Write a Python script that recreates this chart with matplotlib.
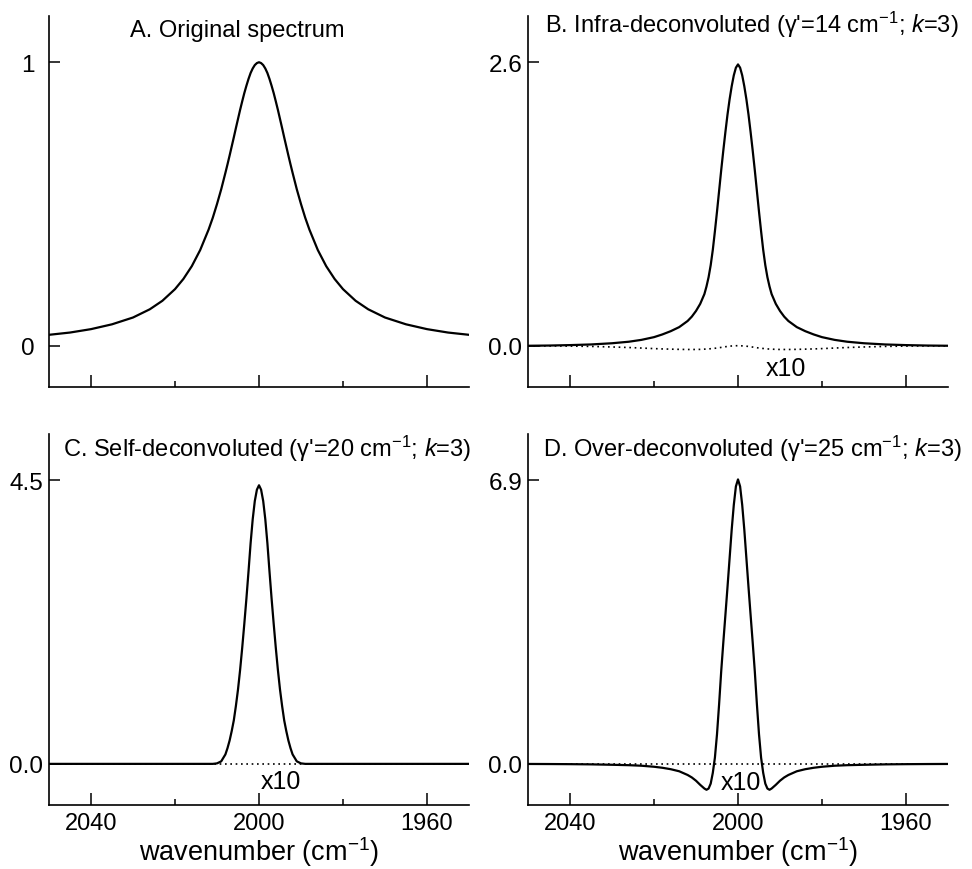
import numpy as np
import matplotlib
matplotlib.use("Agg")
import matplotlib.pyplot as plt
from matplotlib.ticker import FixedLocator

plt.rcParams['font.family'] = ['Liberation Sans', 'DejaVu Sans']
plt.rcParams['mathtext.fontset'] = 'custom'
plt.rcParams['mathtext.rm'] = 'Liberation Sans'
plt.rcParams['mathtext.it'] = 'Liberation Sans:italic'

# ---------------------------------------------------------------
#  data (wavenumber grid shared by all panels)
# ---------------------------------------------------------------
wavenumber = [2050, 2045, 2040, 2035, 2030, 2026, 2023, 2020, 2018, 2016,
              2014, 2012, 2011, 2010, 2009, 2008, 2007.5, 2007, 2006.5, 2006,
              2005.5, 2005, 2004.5, 2004, 2003.5, 2003, 2002.5, 2002, 2001.5,
              2001, 2000.5, 2000,
              1999.5, 1999, 1998.5, 1998, 1997.5, 1997, 1996.5, 1996, 1995.5,
              1995, 1994.5, 1994, 1993.5, 1993, 1992.5, 1992, 1991, 1990, 1989,
              1988, 1986, 1984, 1982, 1980, 1977, 1974, 1970, 1965, 1960, 1955,
              1950]

original = [0.039, 0.047, 0.059, 0.076, 0.100, 0.129, 0.159, 0.200, 0.236, 0.281,
            0.338, 0.410, 0.452, 0.500, 0.552, 0.610, 0.640, 0.671, 0.703, 0.735,
            0.768, 0.800, 0.832, 0.862, 0.891, 0.917, 0.941, 0.962, 0.978,
            0.990, 0.997, 1.000,
            0.997, 0.990, 0.978, 0.962, 0.941, 0.917, 0.891, 0.862, 0.832,
            0.800, 0.768, 0.735, 0.703, 0.671, 0.640, 0.610, 0.552, 0.500, 0.452,
            0.410, 0.338, 0.281, 0.236, 0.200, 0.159, 0.129, 0.100, 0.076, 0.059, 0.047,
            0.039]

infra = [0.001, 0.003, 0.007, 0.013, 0.024, 0.038, 0.055, 0.080, 0.105, 0.135,
         0.172, 0.228, 0.268, 0.320, 0.385, 0.475, 0.545, 0.630, 0.740, 0.880,
         1.050, 1.230, 1.420, 1.610, 1.790, 1.960, 2.120, 2.260, 2.380,
         2.480, 2.550, 2.580,
         2.550, 2.480, 2.380, 2.260, 2.120, 1.960, 1.790, 1.610, 1.420,
         1.230, 1.050, 0.880, 0.740, 0.630, 0.545, 0.475, 0.385, 0.320, 0.268,
         0.228, 0.172, 0.135, 0.105, 0.080, 0.055, 0.038, 0.024, 0.013, 0.007, 0.003,
         0.001]

infra_x10 = [0.000, 0.000, -0.002, -0.005, -0.010, -0.015, -0.020, -0.025, -0.028, -0.030,
             -0.032, -0.033, -0.033, -0.033, -0.032, -0.030, -0.029, -0.028, -0.026, -0.024,
             -0.022, -0.020, -0.017, -0.014, -0.011, -0.008, -0.005, -0.003, -0.001,
             0.000, 0.001, 0.002,
             0.001, 0.000, -0.001, -0.003, -0.005, -0.008, -0.011, -0.014, -0.017,
             -0.020, -0.022, -0.024, -0.026, -0.028, -0.029, -0.030, -0.032, -0.033, -0.033,
             -0.033, -0.032, -0.030, -0.028, -0.025, -0.020, -0.015, -0.010, -0.005, -0.002, 0.000,
             0.000]

self_dec = [0.0, 0.0, 0.0, 0.0, 0.0, 0.0, 0.0, 0.0, 0.0, 0.0,
            0.0, 0.0, 0.0, 0.008, 0.040, 0.150, 0.250, 0.370, 0.520, 0.690,
            0.920, 1.180, 1.490, 1.840, 2.220, 2.620, 3.050, 3.500, 3.880,
            4.170, 4.350, 4.420,
            4.350, 4.170, 3.880, 3.500, 3.050, 2.620, 2.220, 1.840, 1.490,
            1.180, 0.920, 0.690, 0.520, 0.370, 0.250, 0.150, 0.040, 0.008, 0.0,
            0.0, 0.0, 0.0, 0.0, 0.0, 0.0, 0.0, 0.0, 0.0, 0.0, 0.0,
            0.0]

over_dec = [-0.002, -0.004, -0.007, -0.012, -0.022, -0.032, -0.045, -0.070, -0.095, -0.130,
            -0.180, -0.270, -0.330, -0.410, -0.510, -0.600, -0.630, -0.600, -0.480, -0.220,
            0.150, 0.720, 1.450, 2.250, 2.950, 3.620, 4.300, 5.000, 5.700,
            6.300, 6.750, 6.920,
            6.750, 6.300, 5.700, 5.000, 4.300, 3.620, 2.950, 2.250, 1.450,
            0.720, 0.150, -0.220, -0.480, -0.600, -0.630, -0.600, -0.510, -0.410, -0.330,
            -0.270, -0.180, -0.130, -0.095, -0.070, -0.045, -0.032, -0.022, -0.012, -0.007, -0.004,
            -0.002]

zero_x10 = [0.0] * len(wavenumber)

titles = ["A. Original spectrum",
          "B. Infra-deconvoluted (γ'=14 cm$^{-1}$; $k$=3)",
          "C. Self-deconvoluted (γ'=20 cm$^{-1}$; $k$=3)",
          "D. Over-deconvoluted (γ'=25 cm$^{-1}$; $k$=3)"]
peak_ticks = [1.0, 2.6, 4.5, 6.9]
peak_labels = [["0", "1"], ["0.0", "2.6"], ["0.0", "4.5"], ["0.0", "6.9"]]
solid_series = [original, infra, self_dec, over_dec]
dotted_series = [None, infra_x10, zero_x10, zero_x10]
x10_pos = [None, (1988.5, -0.20), (1994.8, -0.27), (1999.3, -0.43)]

# ---------------------------------------------------------------
#  layout (pixel positions of the four frames)
# ---------------------------------------------------------------
W, H = 972, 870
frames = [(49, 388), (528, 388), (49, 806), (528, 806)]   # left, bottom in px
fw, fh = 420, 371
title_pos = [(0.193, 0.946), (0.040, 0.957), (0.033, 0.940), (0.036, 0.940)]

fig = plt.figure(figsize=(W / 100, H / 100), dpi=100)

for i in range(4):
    l, b = frames[i]
    ax = fig.add_axes([l / W, 1 - b / H, fw / W, fh / H])
    ax.plot(wavenumber, solid_series[i], color='black', lw=1.6, zorder=3)
    if dotted_series[i] is not None:
        ax.plot(wavenumber, dotted_series[i], color='black', lw=1.2,
                linestyle=(0, (1, 2.2)), zorder=2)
        ax.text(x10_pos[i][0], x10_pos[i][1], "x10", ha='center', va='center',
                fontsize=18)

    p = peak_ticks[i]
    ax.set_xlim(2050, 1950)
    ax.set_ylim(-0.145 * p, 1.163 * p)

    for side in ['top', 'right']:
        ax.spines[side].set_visible(False)
    for side in ['left', 'bottom']:
        ax.spines[side].set_linewidth(1.2)

    ax.xaxis.set_major_locator(FixedLocator([2040, 2000, 1960]))
    ax.xaxis.set_minor_locator(FixedLocator([2020, 1980]))
    ax.set_yticks([0, p])
    ax.set_yticklabels(peak_labels[i])
    ax.tick_params(axis='y', direction='in', length=8, width=1.1,
                   labelsize=17.5, pad=10 if i == 0 else 4)
    ax.tick_params(axis='x', which='major', direction='in', length=9, width=1.1,
                   labelsize=17, pad=5)
    ax.tick_params(axis='x', which='minor', direction='in', length=4, width=1.1)

    if i < 2:
        ax.tick_params(axis='x', labelbottom=False)
    else:
        ax.set_xlabel("wavenumber (cm$^{-1}$)", fontsize=19.5, va='baseline')
        ax.xaxis.set_label_coords(0.5, -0.148)

    ax.text(title_pos[i][0], title_pos[i][1], titles[i], transform=ax.transAxes,
            ha='left', va='baseline', fontsize=17, clip_on=False)

fig.savefig("out.png", dpi=100)
